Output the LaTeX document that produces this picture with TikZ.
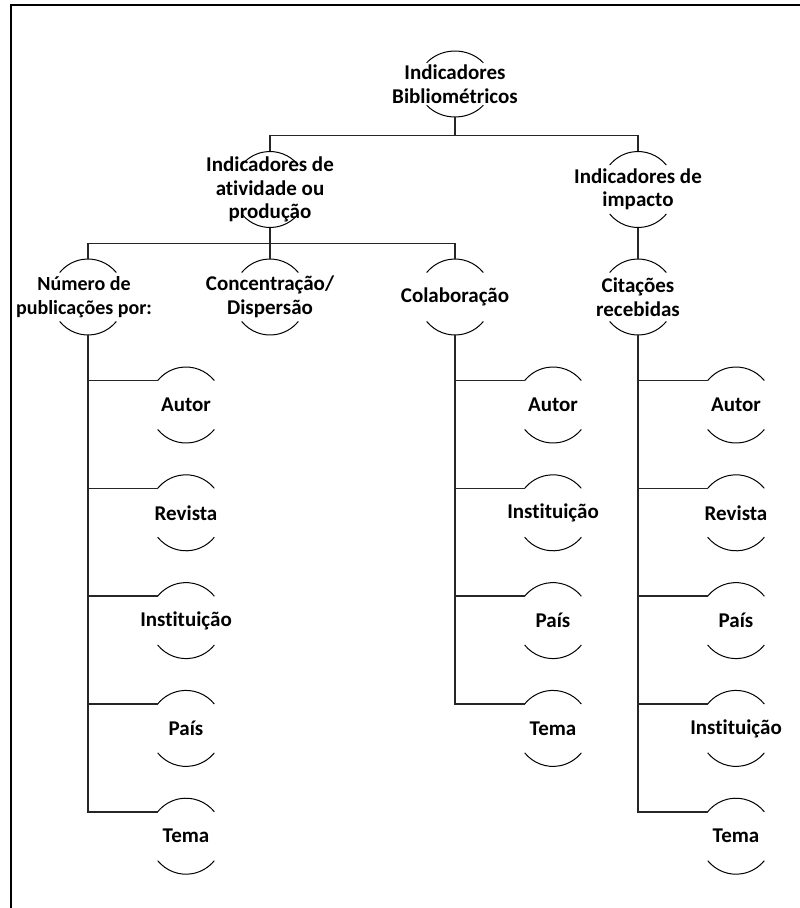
\documentclass[tikz,border=0pt]{standalone}
\usepackage{fontspec}
\setmainfont{Carlito}[Ligatures=NoCommon]
\usepackage{tikz}
\usetikzlibrary{calc}

\begin{document}
\begin{tikzpicture}[
  x=1pt, y=1pt,
  ring/.style={inner sep=0pt, minimum width=74, minimum height=76, align=center,
               font=\bfseries\fontsize{21}{23.5}\selectfont},
  link/.style={line width=1.5pt, black!85},
  rim/.style={line width=1pt, black}
]
  \useasboundingbox (0,0) rectangle (800,-908);
  \draw[line width=2pt] (10.7,-920) |- (820,-5);

  % levels
  \node[ring, minimum height=66] (root) at (455,-84) {Indicadores\\Bibliométricos};
  \node[ring] (ativ) at (270,-189.5) {Indicadores de\\atividade ou\\produção};
  \node[ring] (imp) at (638,-189.5) {Indicadores de\\impacto};
  \node[ring, font=\bfseries\fontsize{20}{23.5}\selectfont] (num) at (84,-297) {Número de\\publicações por:};
  \node[ring] (conc) at (270,-297) {Concentração/\\Dispersão};
  \node[ring] (colab) at (455,-297) {Colaboração};
  \node[ring] (cit) at (638,-297) {Citações\\recebidas};

  % leaves
  \foreach \t [count=\i] in {Autor,Revista,Instituição,País,Tema}
    \node[ring] (na\i) at (186,{-405-(\i-1)*107.8}) {\t};
  \foreach \t [count=\i] in {Autor,Instituição,País,Tema}
    \node[ring] (co\i) at (553,{-405-(\i-1)*107.8}) {\t};
  \foreach \t [count=\i] in {Autor,Revista,País,Instituição,Tema}
    \node[ring] (ci\i) at (736,{-405-(\i-1)*107.8}) {\t};

  % arcs
  \foreach \n in {ativ,imp,conc,colab,cit,na1,na2,na3,na4,na5,co1,co2,co3,co4,ci1,ci2,ci3,ci4,ci5}
    \draw[rim] (\n.center) ++(40:37 and 38) arc[start angle=40, end angle=140, x radius=37, y radius=38]
               (\n.center) ++(220:37 and 38) arc[start angle=220, end angle=320, x radius=37, y radius=38];
  \draw[rim] ([xshift=4]num.center) ++(40:37 and 38) arc[start angle=40, end angle=140, x radius=37, y radius=38]
             ([xshift=4]num.center) ++(220:37 and 38) arc[start angle=220, end angle=320, x radius=37, y radius=38];
  \draw[rim] (root.center) ++(40:37 and 33) arc[start angle=40, end angle=140, x radius=37, y radius=33]
             (root.center) ++(220:37 and 33) arc[start angle=220, end angle=320, x radius=37, y radius=33];

  % connectors
  \coordinate (r1) at (0,-135.5);
  \coordinate (r2) at (0,-243.5);
  \coordinate (nt) at ([xshift=4]num.north);
  \coordinate (nb) at ([xshift=4]num.south);
  \draw[link] (root.south) -- (root.south |- r1);
  \draw[link] (ativ.north) -- (ativ.north |- r1) -- (imp.north |- r1) -- (imp.north);
  \draw[link] (ativ.south) -- (ativ.south |- r2);
  \draw[link] (nt) -- (nt |- r2) -- (colab.north |- r2) -- (colab.north);
  \draw[link] (conc.north) -- (conc.north |- r2);
  \draw[link] (imp.south) -- (cit.north);

  \foreach \i in {1,...,5}
    \draw[link] (nb) |- ([xshift=-28.3, yshift=24.4]na\i.center);
  \foreach \i in {1,...,4}
    \draw[link] (colab.south) |- ([xshift=-28.3, yshift=24.4]co\i.center);
  \foreach \i in {1,...,5}
    \draw[link] (cit.south) |- ([xshift=-28.3, yshift=24.4]ci\i.center);
\end{tikzpicture}
\end{document}
